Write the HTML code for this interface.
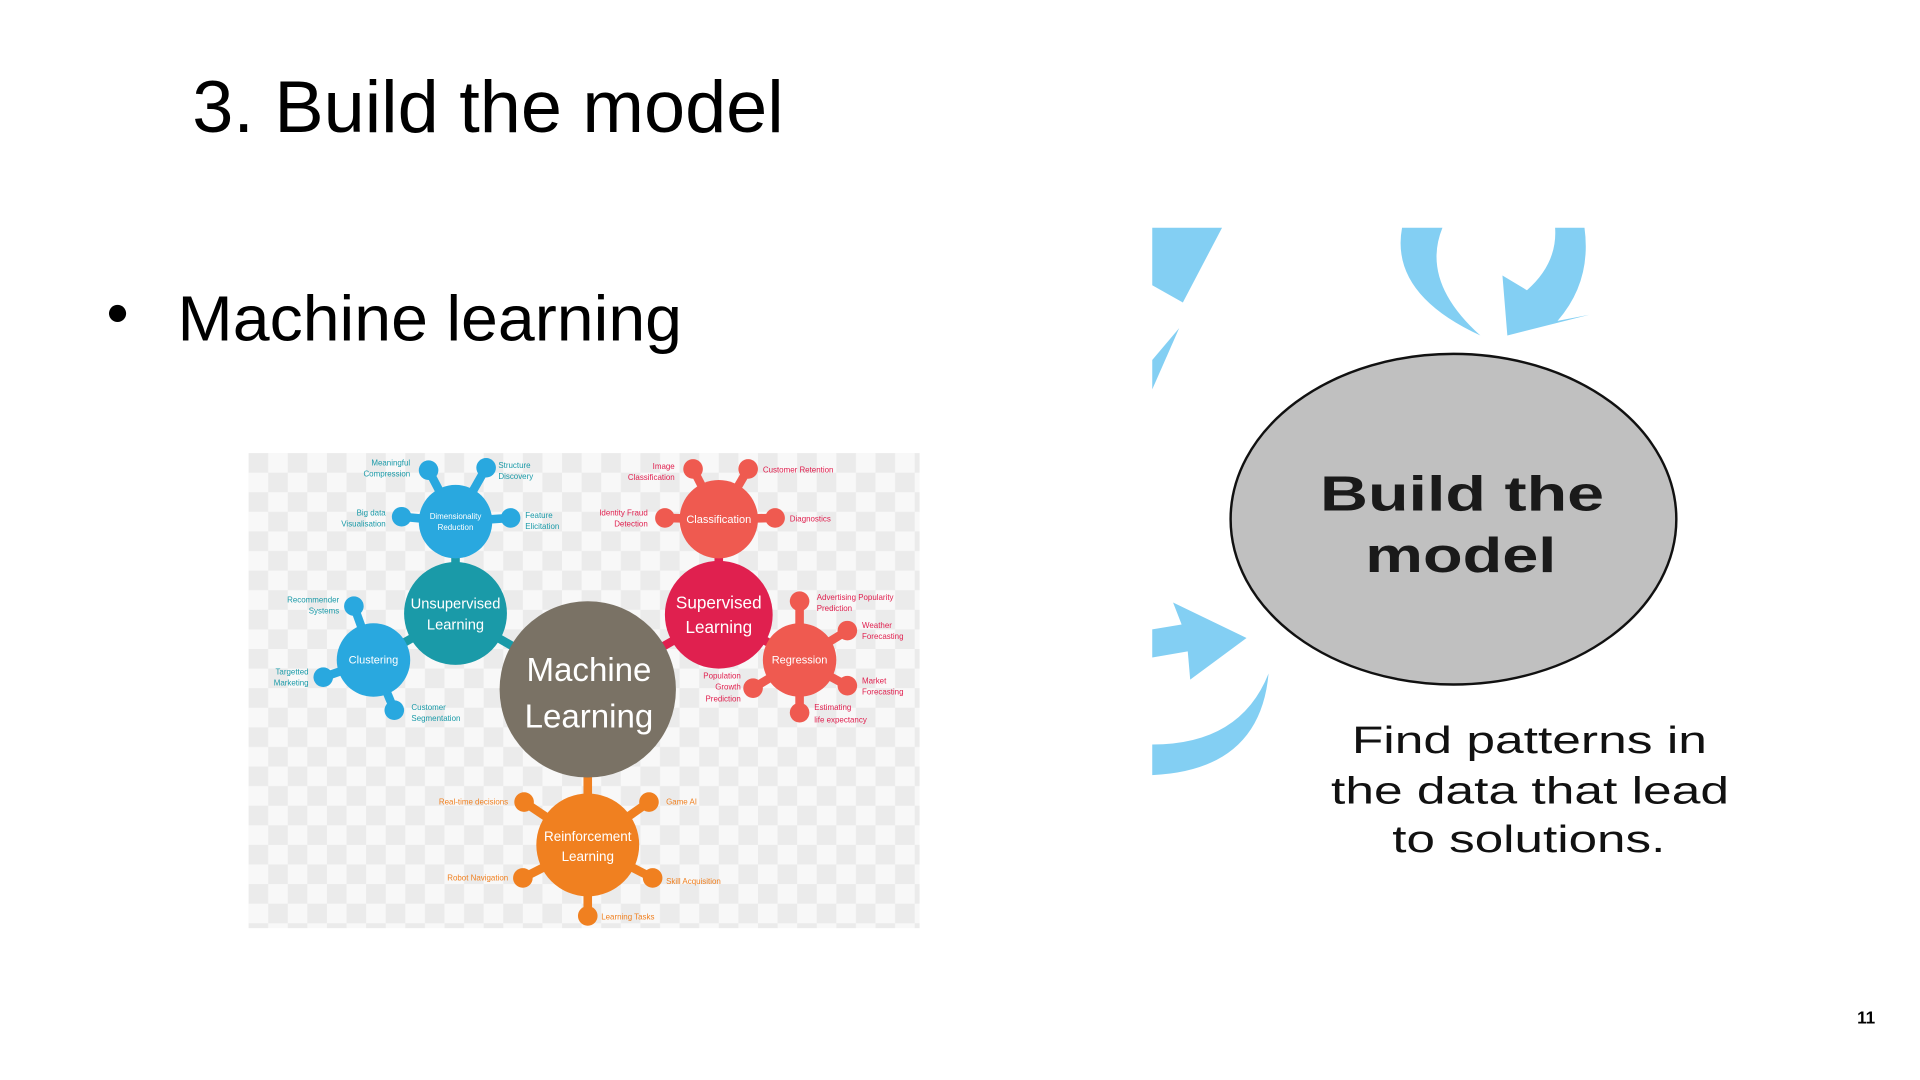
<!DOCTYPE html>
<html><head><meta charset="utf-8"><style>
html,body{margin:0;padding:0;background:#fff;width:1920px;height:1080px;overflow:hidden}
svg{display:block}
</style></head><body>
<svg width="1920" height="1080" viewBox="0 0 1568 882" xmlns="http://www.w3.org/2000/svg" font-family="Liberation Sans, sans-serif">
<defs>
<pattern id="chk" x="203" y="370" width="32" height="32" patternUnits="userSpaceOnUse">
<rect width="32" height="32" fill="#f8f8f8"/>
<rect width="16" height="16" fill="#ebebeb"/>
<rect x="16" y="16" width="16" height="16" fill="#ebebeb"/>
</pattern>
</defs>
<rect width="1568" height="882" fill="#fff"/>
<text x="157" y="108" font-size="60" fill="#000" textLength="483" lengthAdjust="spacingAndGlyphs">3. Build the model</text>
<circle cx="96" cy="256" r="7" fill="#000"/>
<text x="145" y="278" font-size="52" fill="#000" textLength="412" lengthAdjust="spacingAndGlyphs">Machine learning</text>

<!-- ML diagram -->
<rect x="203" y="370" width="548" height="388" fill="url(#chk)"/>
<g stroke-width="7">
<g stroke="#29a8df">
<line x1="372" y1="426" x2="350" y2="384"/><line x1="372" y1="426" x2="397" y2="382"/>
<line x1="372" y1="426" x2="328" y2="422"/><line x1="372" y1="426" x2="417" y2="423"/>
<line x1="305" y1="539" x2="289" y2="495"/><line x1="305" y1="539" x2="264" y2="553"/><line x1="305" y1="539" x2="322" y2="580"/>
</g>
<g stroke="#1a9aa8"><line x1="372" y1="501" x2="372" y2="426"/><line x1="372" y1="501" x2="305" y2="539"/><line x1="372" y1="501" x2="480" y2="563"/></g>
<g stroke="#ef5a50">
<line x1="587" y1="424" x2="566" y2="383"/><line x1="587" y1="424" x2="611" y2="383"/>
<line x1="587" y1="424" x2="543" y2="423"/><line x1="587" y1="424" x2="633" y2="423"/>
<line x1="653" y1="539" x2="653" y2="491"/><line x1="653" y1="539" x2="692" y2="515"/><line x1="653" y1="539" x2="692" y2="560"/><line x1="653" y1="539" x2="653" y2="582"/><line x1="653" y1="539" x2="615" y2="562"/>
</g>
<g stroke="#e0204f"><line x1="587" y1="502" x2="587" y2="424"/><line x1="587" y1="502" x2="653" y2="539"/><line x1="587" y1="502" x2="480" y2="563"/></g>
<g stroke="#f08020">
<line x1="480" y1="563" x2="480" y2="690"/>
<line x1="480" y1="690" x2="428" y2="655"/><line x1="480" y1="690" x2="530" y2="655"/><line x1="480" y1="690" x2="427" y2="717"/><line x1="480" y1="690" x2="533" y2="717"/><line x1="480" y1="690" x2="480" y2="748"/>
</g>
</g>
<g fill="#29a8df">
<circle cx="350" cy="384" r="8"/><circle cx="397" cy="382" r="8"/><circle cx="328" cy="422" r="8"/><circle cx="417" cy="423" r="8"/>
<circle cx="289" cy="495" r="8"/><circle cx="264" cy="553" r="8"/><circle cx="322" cy="580" r="8"/>
<circle cx="372" cy="426" r="30"/><circle cx="305" cy="539" r="30"/>
</g>
<circle cx="372" cy="501" r="42" fill="#1a9aa8"/>
<g fill="#ef5a50">
<circle cx="566" cy="383" r="8"/><circle cx="611" cy="383" r="8"/><circle cx="543" cy="423" r="8"/><circle cx="633" cy="423" r="8"/>
<circle cx="653" cy="491" r="8"/><circle cx="692" cy="515" r="8"/><circle cx="692" cy="560" r="8"/><circle cx="653" cy="582" r="8"/><circle cx="615" cy="562" r="8"/>
<circle cx="587" cy="424" r="32"/><circle cx="653" cy="539" r="30"/>
</g>
<circle cx="587" cy="502" r="44" fill="#e0204f"/>
<g fill="#f08020">
<circle cx="428" cy="655" r="8"/><circle cx="530" cy="655" r="8"/><circle cx="427" cy="717" r="8"/><circle cx="533" cy="717" r="8"/><circle cx="480" cy="748" r="8"/>
<circle cx="480" cy="690" r="42"/>
</g>
<circle cx="480" cy="563" r="72" fill="#7a7265"/>

<g fill="#fff" text-anchor="middle">
<text x="481" y="556" font-size="27">Machine</text>
<text x="481" y="594" font-size="27">Learning</text>
<text x="372" y="497" font-size="12">Unsupervised</text>
<text x="372" y="514" font-size="12">Learning</text>
<text x="587" y="497" font-size="14">Supervised</text>
<text x="587" y="517" font-size="14">Learning</text>
<text x="480" y="687" font-size="11">Reinforcement</text>
<text x="480" y="703" font-size="11">Learning</text>
<text x="305" y="542" font-size="9">Clustering</text>
<text x="653" y="542" font-size="9">Regression</text>
<text x="587" y="427" font-size="9">Classification</text>
<text x="372" y="424" font-size="6.5">Dimensionality</text>
<text x="372" y="433" font-size="6.5">Reduction</text>
</g>
<g font-size="6.5" fill="#1a9aa8">
<text x="335" y="380" text-anchor="end">Meaningful</text><text x="335" y="389" text-anchor="end">Compression</text>
<text x="407" y="382">Structure</text><text x="407" y="391">Discovery</text>
<text x="315" y="421" text-anchor="end">Big data</text><text x="315" y="430" text-anchor="end">Visualisation</text>
<text x="429" y="423">Feature</text><text x="429" y="432">Elicitation</text>
<text x="277" y="492" text-anchor="end">Recommender</text><text x="277" y="501" text-anchor="end">Systems</text>
<text x="252" y="551" text-anchor="end">Targetted</text><text x="252" y="560" text-anchor="end">Marketing</text>
<text x="336" y="580">Customer</text><text x="336" y="589">Segmentation</text>
</g>
<g font-size="6.5" fill="#e0204f">
<text x="551" y="383" text-anchor="end">Image</text><text x="551" y="392" text-anchor="end">Classification</text>
<text x="623" y="386">Customer Retention</text>
<text x="529" y="421" text-anchor="end">Identity Fraud</text><text x="529" y="430" text-anchor="end">Detection</text>
<text x="645" y="426">Diagnostics</text>
<text x="667" y="490">Advertising Popularity</text><text x="667" y="499">Prediction</text>
<text x="704" y="513">Weather</text><text x="704" y="522">Forecasting</text>
<text x="704" y="558">Market</text><text x="704" y="567">Forecasting</text>
<text x="665" y="580">Estimating</text><text x="665" y="590">life expectancy</text>
<text x="605" y="554" text-anchor="end">Population</text><text x="605" y="563" text-anchor="end">Growth</text><text x="605" y="573" text-anchor="end">Prediction</text>
</g>
<g font-size="6.5" fill="#f08020">
<text x="415" y="657" text-anchor="end">Real-time decisions</text>
<text x="544" y="657">Game AI</text>
<text x="415" y="719" text-anchor="end">Robot Navigation</text>
<text x="544" y="722">Skill Acquisition</text>
<text x="491" y="751">Learning Tasks</text>
</g>

<g fill="#83cff3">
<polygon points="941,186 998,186 966,247 941,233"/>
<polygon points="941,318 963,268 941,294"/>
<path d="M1145,186 Q1135,240 1209,274 Q1160,230 1178,186 Z"/>
<path d="M1270,186 L1294,186 Q1300,230 1272,262 L1298,257 L1231,274 L1227,225 L1247,237 Q1272,215 1270,186 Z"/>
<polygon points="1018,521 958,492 965,510 941,514 941,537 970,532 972,555"/>
<path d="M1036,550 Q1029,629 941,633 L941,608 Q1013,608 1036,550 Z"/>
</g>
<ellipse cx="1187" cy="424" rx="182" ry="135" fill="#c0c0c0" stroke="#111" stroke-width="2"/>
<g font-weight="bold" fill="#1a1a1a" font-size="40">
<text x="1078" y="417" textLength="232" lengthAdjust="spacingAndGlyphs">Build the</text>
<text x="1115" y="467" textLength="156" lengthAdjust="spacingAndGlyphs">model</text>
</g>
<g fill="#111" font-size="31">
<text x="1104" y="615" textLength="290" lengthAdjust="spacingAndGlyphs">Find patterns in</text>
<text x="1087" y="656" textLength="325" lengthAdjust="spacingAndGlyphs">the data that lead</text>
<text x="1137" y="696" textLength="223" lengthAdjust="spacingAndGlyphs">to solutions.</text>
</g>
<text x="1524" y="836" text-anchor="middle" font-size="14" font-weight="bold">11</text>
</svg>
</body></html>
